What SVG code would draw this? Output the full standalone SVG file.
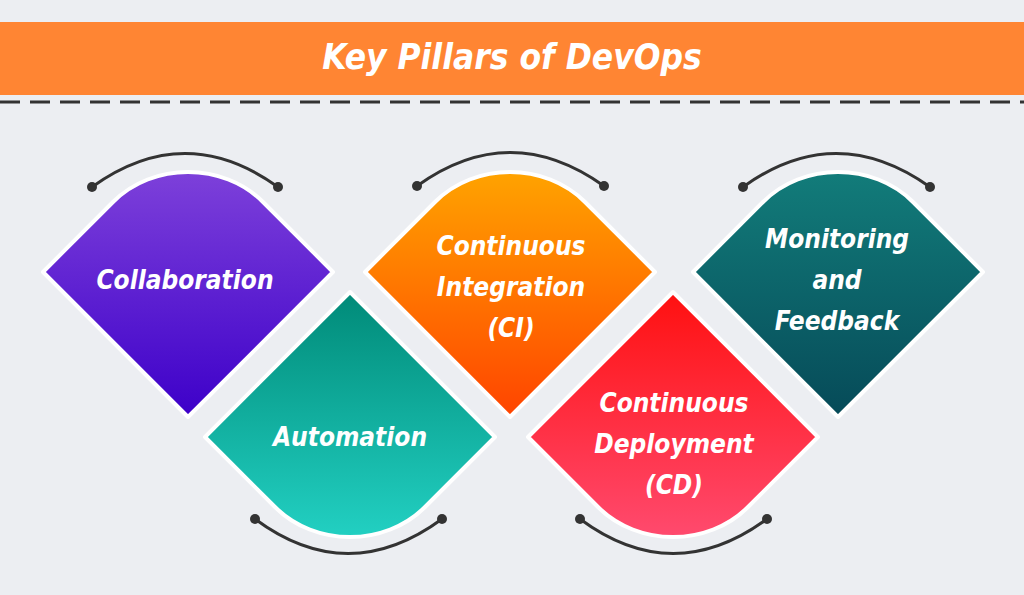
<svg xmlns="http://www.w3.org/2000/svg" width="1024" height="595" viewBox="0 0 1024 595">
<defs>
<linearGradient id="gP" x1="0" y1="0" x2="0" y2="1"><stop offset="0" stop-color="#7d40da"/><stop offset="1" stop-color="#3d00c9"/></linearGradient>
<linearGradient id="gT" x1="0" y1="0" x2="0" y2="1"><stop offset="0" stop-color="#22d0c2"/><stop offset="1" stop-color="#008a78"/></linearGradient>
<linearGradient id="gO" x1="0" y1="0" x2="0" y2="1"><stop offset="0" stop-color="#ffa300"/><stop offset="1" stop-color="#ff4400"/></linearGradient>
<linearGradient id="gR" x1="0" y1="0" x2="0" y2="1"><stop offset="0" stop-color="#ff4a6e"/><stop offset="1" stop-color="#ff1010"/></linearGradient>
<linearGradient id="gM" x1="0" y1="0" x2="0" y2="1"><stop offset="0" stop-color="#127c7a"/><stop offset="1" stop-color="#064a58"/></linearGradient>
<path id="top" d="M-145,0 L-75,-70 C-35,-110 35,-110 75,-70 L145,0 L0,145 Z"/>
</defs>
<style>
.sh{stroke:#fff;stroke-width:4;stroke-linejoin:round}
.t{font-family:"DejaVu Sans",sans-serif;font-stretch:condensed;font-style:italic;font-weight:bold;font-size:26px;fill:#fff;text-anchor:middle}
.arc{fill:none;stroke:#333;stroke-width:3}
.dot{fill:#333}
</style>
<rect width="1024" height="595" fill="#eceef2"/>
<rect x="0" y="22" width="1024" height="73" fill="#ff8533"/>
<text x="512" y="69" font-family="DejaVu Sans,sans-serif" font-stretch="condensed" font-style="italic" font-weight="bold" font-size="35" fill="#fff" text-anchor="middle">Key Pillars of DevOps</text>
<line x1="0" y1="102" x2="1024" y2="102" stroke="#333" stroke-width="3" stroke-dasharray="20,10"/>
<g id="connectors">
<path class="arc" d="M92,187 Q185,120 278,187"/><circle class="dot" cx="92" cy="187" r="5"/><circle class="dot" cx="278" cy="187" r="5"/>
<path class="arc" d="M417,186 Q510,119 604,186"/><circle class="dot" cx="417" cy="186" r="5"/><circle class="dot" cx="604" cy="186" r="5"/>
<path class="arc" d="M743,187 Q836,120 930,187"/><circle class="dot" cx="743" cy="187" r="5"/><circle class="dot" cx="930" cy="187" r="5"/>
<path class="arc" d="M255,519 Q348,588 442,519"/><circle class="dot" cx="255" cy="519" r="5"/><circle class="dot" cx="442" cy="519" r="5"/>
<path class="arc" d="M580,519 Q673,588 767,519"/><circle class="dot" cx="580" cy="519" r="5"/><circle class="dot" cx="767" cy="519" r="5"/>
</g>
<g id="collaboration"><use href="#top" class="sh" fill="url(#gP)" transform="translate(188,272)"/><text class="t" x="185" y="289">Collaboration</text></g>
<g id="automation"><use href="#top" class="sh" fill="url(#gT)" transform="translate(350,437) scale(1,-1)"/><text class="t" x="350" y="446">Automation</text></g>
<g id="ci"><use href="#top" class="sh" fill="url(#gO)" transform="translate(510,272)"/><text class="t" x="511" y="255">Continuous</text><text class="t" x="511" y="296">Integration</text><text class="t" x="511" y="337">(CI)</text></g>
<g id="cd"><use href="#top" class="sh" fill="url(#gR)" transform="translate(673,437) scale(1,-1)"/><text class="t" x="674" y="412">Continuous</text><text class="t" x="674" y="453">Deployment</text><text class="t" x="674" y="494">(CD)</text></g>
<g id="monitoring"><use href="#top" class="sh" fill="url(#gM)" transform="translate(838,272)"/><text class="t" x="837" y="248">Monitoring</text><text class="t" x="837" y="289">and</text><text class="t" x="837" y="330">Feedback</text></g>
</svg>
